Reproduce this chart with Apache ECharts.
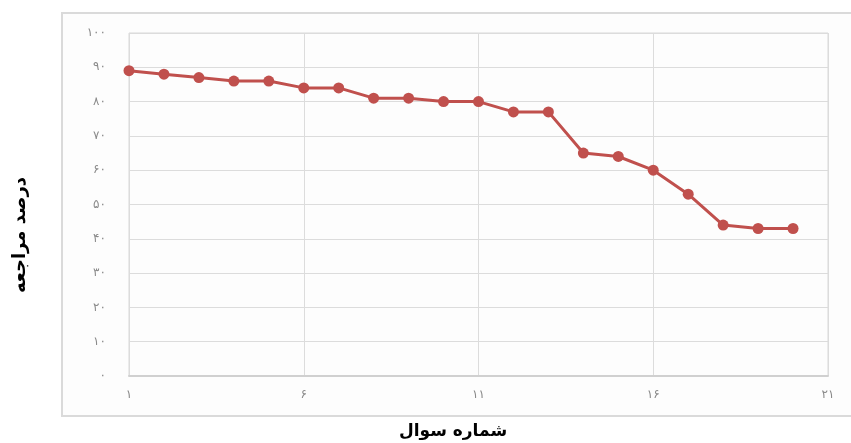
<!DOCTYPE html>
<html><head><meta charset="utf-8">
<script src="https://cdn.jsdelivr.net/npm/echarts@6/dist/echarts.min.js"></script>
<style>html,body{margin:0;padding:0;background:#fff}#c{width:851px;height:443px}</style>
</head><body><div id="c"></div>
<script>
var questions = [1,2,3,4,5,6,7,8,9,10,11,12,13,14,15,16,17,18,19,20];
var percents  = [89,88,87,86,86,84,84,81,81,80,80,77,77,65,64,60,53,44,43,43];
var xTitle = 'شماره سوال';
var yTitle = 'درصد مراجعه';
var faDigits = '۰۱۲۳۴۵۶۷۸۹';
function fa(n){ return String(n).replace(/[0-9]/g, function(d){ return faDigits[+d]; }); }

var chart = echarts.init(document.getElementById('c'));
chart.setOption({
  backgroundColor: '#ffffff',
  animation: false,
  graphic: [
    { type: 'rect', z: -10, shape: { x: 62, y: 13, width: 800, height: 403 },
      style: { fill: '#fdfdfd', stroke: '#dadada', lineWidth: 2 } },
    { type: 'text', x: 20, y: 235, rotation: Math.PI / 2,
      style: { text: yTitle, font: 'bold 18px "DejaVu Sans"', fill: '#000', textAlign: 'center', textVerticalAlign: 'middle' } },
    { type: 'text', x: 453, y: 432,
      style: { text: xTitle, font: 'bold 17px "DejaVu Sans"', fill: '#000', textAlign: 'center', textVerticalAlign: 'middle' } }
  ],
  grid: { left: 129, right: 23, top: 33, bottom: 67, show: true, borderColor: '#d9d9d9', borderWidth: 1 },
  xAxis: {
    type: 'value', min: 1, max: 21, interval: 5,
    axisLine: { show: true, lineStyle: { color: '#d0d0d0', width: 2 } },
    axisTick: { show: false },
    splitLine: { show: true, lineStyle: { color: '#dcdcdc', width: 1 } },
    axisLabel: { formatter: function(v){ return fa(v); }, color: '#8a8a8a', fontSize: 12, margin: 13, fontFamily: 'DejaVu Sans' }
  },
  yAxis: {
    type: 'value', min: 0, max: 100, interval: 10,
    axisLine: { show: false },
    axisTick: { show: false },
    splitLine: { show: true, lineStyle: { color: '#dcdcdc', width: 1 } },
    axisLabel: { formatter: function(v){ return fa(v); }, color: '#8a8a8a', fontSize: 12, margin: 23, fontFamily: 'DejaVu Sans' }
  },
  series: [{
    type: 'line',
    data: questions.map(function(q, i){ return [q, percents[i]]; }),
    symbol: 'circle', symbolSize: 11,
    lineStyle: { color: '#c0504d', width: 3 },
    itemStyle: { color: '#c0504d' }
  }]
});
</script></body></html>
